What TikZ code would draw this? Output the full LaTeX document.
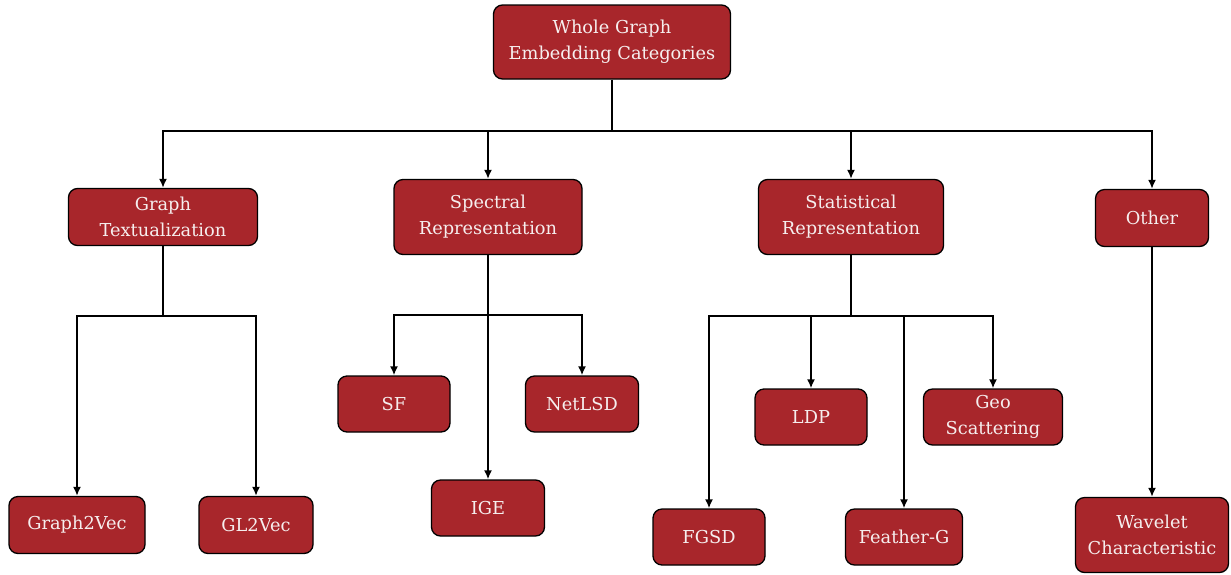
\documentclass[tikz,border=0pt]{standalone}
\usepackage{fontspec}
\setmainfont{DejaVu Serif}
\usetikzlibrary{arrows.meta}
\definecolor{boxred}{HTML}{A8262B}
\definecolor{boxtext}{HTML}{F6EEEE}
\tikzset{
  cat/.style={draw=black, line width=1.3pt, fill=boxred, rounded corners=9pt,
    text=boxtext, align=center, font=\fontsize{17.8}{26}\selectfont, inner sep=0pt},
  link/.style={line width=2.8pt, draw=black},
  arr/.style={link, -{Latex[length=9pt,width=8pt]}}
}
\begin{document}
\begin{tikzpicture}[x=1pt, y=-1pt]
\useasboundingbox (0,0) rectangle (1231,574);
% root
\node[cat, minimum width=237pt, minimum height=74pt] (root) at (612,42) {Whole Graph\\Embedding Categories};
% categories
\node[cat, minimum width=189pt, minimum height=57pt] (gt) at (163,217) {Graph\\Textualization};
\node[cat, minimum width=188pt, minimum height=75pt] (sp) at (488,217) {Spectral\\Representation};
\node[cat, minimum width=185pt, minimum height=75pt] (st) at (851,217) {Statistical\\Representation};
\node[cat, minimum width=113pt, minimum height=57pt] (ot) at (1152,218) {Other};
% methods
\node[cat, minimum width=136pt, minimum height=57pt] (g2v) at (77,525) {Graph2Vec};
\node[cat, minimum width=114pt, minimum height=57pt] (gl2v) at (256,525) {GL2Vec};
\node[cat, minimum width=112pt, minimum height=56pt] (sf) at (394,404) {SF};
\node[cat, minimum width=113pt, minimum height=56pt] (nlsd) at (582,404) {NetLSD};
\node[cat, minimum width=113pt, minimum height=56pt] (ige) at (488,508) {IGE};
\node[cat, minimum width=112pt, minimum height=56pt] (fgsd) at (709,537) {FGSD};
\node[cat, minimum width=112pt, minimum height=56pt] (ldp) at (811,417) {LDP};
\node[cat, minimum width=117pt, minimum height=56pt] (fg) at (904,537) {Feather-G};
\node[cat, minimum width=139pt, minimum height=56pt] (geo) at (993,417) {Geo\\Scattering};
\node[cat, minimum width=153pt, minimum height=75pt] (wav) at (1152,535) {Wavelet\\Characteristic};
% bus junctions
\coordinate (b0) at (612,131);
\coordinate (b1) at (163,316);
\coordinate (b2) at (488,315);
\coordinate (b3) at (851,316);
% root to categories
\draw[link] (root.south) -- (b0);
\draw[arr] (b0) -| (gt.north);
\draw[arr] (b0) -| (sp.north);
\draw[arr] (b0) -| (st.north);
\draw[arr] (b0) -| (ot.north);
% graph textualization
\draw[link] (gt.south) -- (b1);
\draw[arr] (b1) -| (g2v.north);
\draw[arr] (b1) -| (gl2v.north);
% spectral representation
\draw[link] (sp.south) -- (b2);
\draw[arr] (b2) -| (sf.north);
\draw[arr] (b2) -| (nlsd.north);
\draw[arr] (b2) -- (ige.north);
% statistical representation
\draw[link] (st.south) -- (b3);
\draw[arr] (b3) -| (fgsd.north);
\draw[arr] (b3) -| (ldp.north);
\draw[arr] (b3) -| (fg.north);
\draw[arr] (b3) -| (geo.north);
% other
\draw[arr] (ot.south) -- (wav.north);
\end{tikzpicture}
\end{document}
